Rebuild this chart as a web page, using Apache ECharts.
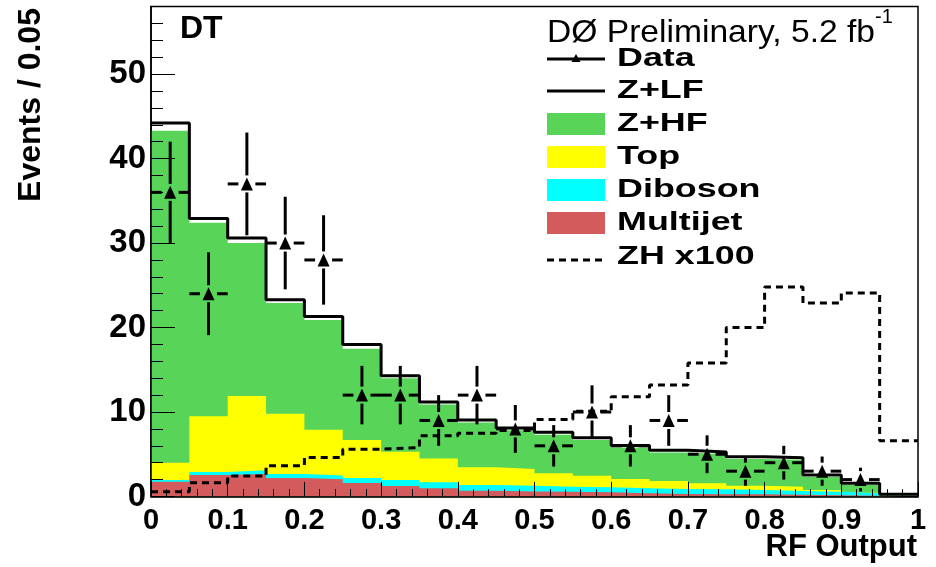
<!DOCTYPE html>
<html><head><meta charset="utf-8">
<script src="https://cdn.jsdelivr.net/npm/echarts@6/dist/echarts.min.js"></script>
<style>html,body{margin:0;padding:0;background:#fff}#c{width:936px;height:567px}</style>
</head><body><div id="c"></div>
<script>
// ---- data ----
var binEdges   = [0,0.05,0.1,0.15,0.2,0.25,0.3,0.35,0.4,0.45,0.5,0.55,0.6,0.65,0.7,0.75,0.8,0.85,0.9,0.95,1.0];
var multijet   = [1.75,2.55,2.65,2.2,2.05,1.6,1.25,0.97,0.69,0.6,0.57,0.5,0.38,0.3,0.26,0.26,0.2,0.15,0.1,0.05];
var diboson    = [0.2,0.35,0.45,0.45,0.45,0.6,0.7,0.73,0.67,0.66,0.59,0.59,0.59,0.59,0.59,0.51,0.45,0.42,0.28,0.05];
var topq       = [2.05,6.6,8.8,7.15,5.4,4.5,3.35,2.8,2.09,1.99,1.58,1.37,1.1,0.94,0.71,0.51,0.51,0.2,0.07,0.0];
var zhf        = [39.3,22.9,18.1,13.1,13.0,10.8,8.7,6.4,5.3,4.6,4.56,4.24,3.73,3.37,3.44,3.17,3.19,1.53,0.9,0.05];
var zlf        = [0.9,0.5,0.6,0.4,0.4,0.5,0.3,0.3,0.3,0.25,0.3,0.26,0.25,0.26,0.28,0.25,0.25,0.24,0.21,0.11];
var dataCounts = [36,24,37,30,28,12,12,9,12,8,6,10,6,9,5,3,4,3,2,0];
var dataErr    = [6.0,4.9,6.08,5.48,5.29,3.46,3.46,3.0,3.46,2.83,2.45,3.16,2.45,3.0,2.24,1.73,2.0,1.73,1.41,0];
var zh100      = [0.57,1.64,2.43,3.65,4.63,5.6,5.8,7.2,7.5,7.8,9.1,10.1,11.8,13.2,15.8,20.0,24.8,22.9,24.1,6.6];

var legendNames = ['Data','Z+LF','Z+HF','Top','Diboson','Multijet','ZH x100'];
var colors = {zhf:'#58d458', top:'#ffff00', diboson:'#00ffff', multijet:'#d45b5b'};

// ---- helpers ----
function addArrays(a,b){ return a.map(function(v,i){ return v + b[i]; }); }
var cumMJ  = multijet.slice();
var cumDB  = addArrays(cumMJ, diboson);
var cumTop = addArrays(cumDB, topq);
var cumHF  = addArrays(cumTop, zhf);
var cumLF  = addArrays(cumHF, zlf);

function stepPoints(vals){
  var pts = [];
  for (var i = 0; i < vals.length; i++) pts.push([binEdges[i], vals[i]]);
  pts.push([binEdges[vals.length], vals[vals.length-1]]);
  return pts;
}
function areaSeries(name, vals, color){
  return {name:name, type:'line', step:'end', data:stepPoints(vals), showSymbol:false, silent:true,
    lineStyle:{width:0, opacity:0}, areaStyle:{color:color, opacity:1}, z:2};
}

var dataItems = [];
for (var i = 0; i < dataCounts.length; i++) {
  if (dataCounts[i] > 0) {
    dataItems.push([(binEdges[i]+binEdges[i+1])/2, dataCounts[i], dataErr[i], binEdges[i], binEdges[i+1]]);
  }
}

var FONT = '"Liberation Sans", Arial, Helvetica, sans-serif';

var chart = echarts.init(document.getElementById('c'), null, {renderer:'canvas'});

var gElems = [];
// header texts
gElems.push({type:'text', x:180, y:29, style:{text:'DT', fontSize:32, fontWeight:'bold', fontFamily:FONT, fill:'#000', align:'left', verticalAlign:'middle'}, z:100});
gElems.push({type:'text', x:547, y:33, scaleX:1.05, style:{text:'DØ Preliminary, 5.2 fb', fontSize:32, fontWeight:'normal', fontFamily:FONT, fill:'#000', align:'left', verticalAlign:'middle'}, z:100});
gElems.push({type:'text', x:875, y:17, style:{text:'-1', fontSize:20, fontWeight:'normal', fontFamily:FONT, fill:'#000', align:'left', verticalAlign:'middle'}, z:100});
// axis titles
gElems.push({type:'text', x:31, y:105, rotation:Math.PI/2, style:{text:'Events / 0.05', fontSize:32, fontWeight:'bold', fontFamily:FONT, fill:'#000', align:'center', verticalAlign:'middle'}, z:100});
gElems.push({type:'text', x:917, y:547, style:{text:'RF Output', fontSize:31, fontWeight:'bold', fontFamily:FONT, fill:'#000', align:'right', verticalAlign:'middle'}, z:100});

// legend
var lx0 = 547, lx1 = 605, tx = 617, sx = 1.38;
var rowY = [59, 91, 124, 157, 190, 223, 257];
gElems.push({type:'line', shape:{x1:lx0, y1:rowY[0], x2:lx1, y2:rowY[0]}, style:{stroke:'#000', lineWidth:3}, z:100});
gElems.push({type:'polygon', shape:{points:[[576,rowY[0]-5],[580.5,rowY[0]+3],[571.5,rowY[0]+3]]}, style:{fill:'#000'}, z:101});
gElems.push({type:'line', shape:{x1:lx0, y1:rowY[1], x2:lx1, y2:rowY[1]}, style:{stroke:'#000', lineWidth:3}, z:100});
var boxColors = [colors.zhf, colors.top, colors.diboson, colors.multijet];
for (var b = 0; b < 4; b++) {
  gElems.push({type:'rect', shape:{x:lx0, y:rowY[2+b]-11, width:lx1-lx0, height:22}, style:{fill:boxColors[b]}, z:100});
}
gElems.push({type:'line', shape:{x1:lx0, y1:rowY[6]+3, x2:lx1, y2:rowY[6]+3}, style:{stroke:'#000', lineWidth:3, lineDash:[7,5]}, z:100});
for (var k = 0; k < legendNames.length; k++) {
  gElems.push({type:'text', x:tx, y:rowY[k], scaleX:sx, style:{text:legendNames[k], fontSize:26, fontWeight:'bold', fontFamily:FONT, fill:'#000', align:'left', verticalAlign:'middle'}, z:100});
}

var option = {
  animation:false,
  backgroundColor:'#fff',
  grid:{left:151, right:18, top:6.5, bottom:70.5, show:true, borderColor:'#000', borderWidth:1.5, backgroundColor:'transparent'},
  xAxis:{type:'value', min:0, max:1, interval:0.1, z:10,
    axisLine:{show:true, onZero:false, lineStyle:{color:'#000', width:1.5}},
    axisTick:{show:true, inside:true, length:14.6, lineStyle:{color:'#000', width:1}},
    minorTick:{show:true, splitNumber:5, length:7.3, lineStyle:{color:'#000', width:1}},
    splitLine:{show:false},
    axisLabel:{margin:10, fontSize:29, fontWeight:'bold', fontFamily:FONT, color:'#000'}
  },
  yAxis:{type:'value', min:0, max:58, interval:10, z:10,
    axisLine:{show:true, lineStyle:{color:'#000', width:1.5}},
    axisTick:{show:true, inside:true, length:24, lineStyle:{color:'#000', width:1}},
    minorTick:{show:true, splitNumber:5, length:12, lineStyle:{color:'#000', width:1}},
    splitLine:{show:false},
    axisLabel:{margin:5, fontSize:33, fontWeight:'bold', fontFamily:FONT, color:'#000', showMaxLabel:false}
  },
  series:[
    areaSeries('Z+HF', cumHF, colors.zhf),
    areaSeries('Top', cumTop, colors.top),
    areaSeries('Diboson', cumDB, colors.diboson),
    areaSeries('Multijet', cumMJ, colors.multijet),
    {name:'Z+LF', type:'line', step:'end', data:stepPoints(cumLF), showSymbol:false, silent:true,
      lineStyle:{color:'#000', width:3}, z:3},
    {name:'ZH x100', type:'line', step:'end', data:stepPoints(zh100), showSymbol:false, silent:true,
      lineStyle:{color:'#000', width:3, type:[7,5]}, z:4},
    {name:'Data errors', type:'custom', silent:true, z:5, data:dataItems,
      renderItem:function(params, api){
        var xc = api.value(0), v = api.value(1), e = api.value(2), xl = api.value(3), xh = api.value(4);
        var c = api.coord([xc, v]);
        var t = api.coord([xc, v + e]);
        var bt = api.coord([xc, v - e]);
        var l = api.coord([xl, v]);
        var r = api.coord([xh, v]);
        var gap = 8.5, ch = [];
        var st = {stroke:'#000', lineWidth:3};
        if (c[1] - gap > t[1]) ch.push({type:'line', shape:{x1:c[0], y1:t[1], x2:c[0], y2:c[1]-gap}, style:st});
        if (bt[1] > c[1] + gap) ch.push({type:'line', shape:{x1:c[0], y1:c[1]+gap, x2:c[0], y2:bt[1]}, style:st});
        if (c[0] - gap > l[0]) ch.push({type:'line', shape:{x1:l[0], y1:c[1], x2:c[0]-gap, y2:c[1]}, style:st});
        if (r[0] > c[0] + gap) ch.push({type:'line', shape:{x1:c[0]+gap, y1:c[1], x2:r[0], y2:c[1]}, style:st});
        return {type:'group', children:ch};
      }
    },
    {name:'Data', type:'scatter', silent:true, z:6, symbol:'triangle', symbolSize:[12,13],
      itemStyle:{color:'#000', opacity:1}, data:dataItems.map(function(d){ return [d[0], d[1]]; })}
  ],
  graphic:{elements:gElems}
};
chart.setOption(option);
</script>
</body></html>
